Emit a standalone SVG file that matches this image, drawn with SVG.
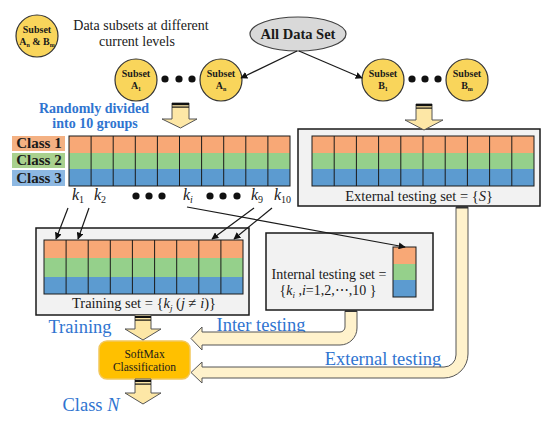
<svg xmlns="http://www.w3.org/2000/svg" width="550" height="423" viewBox="0 0 550 423">
<style>
.serif{font-family:"Liberation Serif","Times New Roman",serif;fill:#1a1a1a}
.bold{font-weight:bold}
.blue{fill:#2F74D0}
.sub{fill:#F9D55B;stroke:#333;stroke-width:1.2}
.box{fill:#F2F2F2;stroke:#1a1a1a;stroke-width:1.5}
.or{fill:#F8A876}
.gr{fill:#95D08B}
.bl{fill:#5C9BD0}
.gl{stroke:#1a1a1a;stroke-width:1;fill:none}
.barrow{fill:#FDE7A6;stroke:#555;stroke-width:1}
.carrow{fill:#FFF2CC;stroke:#555;stroke-width:1}
.con{stroke:#1a1a1a;stroke-width:1.2;fill:none;marker-end:url(#ah)}
.dot{fill:#111}
.k{font-size:16px;font-style:italic}
</style>
<defs>
<marker id="ah" viewBox="0 0 10 10" refX="9" refY="5" markerWidth="7" markerHeight="7" orient="auto" markerUnits="userSpaceOnUse">
<path d="M0,0 L10,5 L0,10 z" fill="#111"/>
</marker>
</defs>
<rect width="550" height="423" fill="#fff"/>

<g id="legend">
<circle class="sub" cx="37" cy="36" r="21"/>
<text class="serif bold" x="37" y="33" font-size="10" text-anchor="middle">Subset</text>
<text class="serif bold" x="37" y="45" font-size="10" text-anchor="middle">A<tspan font-size="6" dy="2">n</tspan><tspan dy="-2"> &amp; B</tspan><tspan font-size="6" dy="2">m</tspan></text>
<text class="serif" x="141" y="30" font-size="14" text-anchor="middle">Data subsets at different</text>
<text class="serif" x="137" y="46" font-size="14" text-anchor="middle">current levels</text>
</g>

<g id="all-data">
<ellipse cx="298" cy="34" rx="48" ry="17" fill="#D9D9D9" stroke="#404040" stroke-width="1.2"/>
<text class="serif bold" x="298" y="39" font-size="14.5" text-anchor="middle">All Data Set</text>
</g>

<g id="subset-a1">
<circle class="sub" cx="136" cy="80" r="21"/>
<text class="serif bold" x="136" y="77" font-size="10" text-anchor="middle">Subset</text>
<text class="serif bold" x="136" y="89" font-size="10" text-anchor="middle">A<tspan font-size="6" dy="2">1</tspan></text>
</g>
<g id="subset-an">
<circle class="sub" cx="221" cy="80" r="21"/>
<text class="serif bold" x="221" y="77" font-size="10" text-anchor="middle">Subset</text>
<text class="serif bold" x="221" y="89" font-size="10" text-anchor="middle">A<tspan font-size="6" dy="2">n</tspan></text>
</g>
<g id="dots-a">
<circle class="dot" cx="165" cy="79" r="3.6"/>
<circle class="dot" cx="179" cy="79" r="3.6"/>
<circle class="dot" cx="192" cy="79" r="3.6"/>
</g>
<g id="subset-b1">
<circle class="sub" cx="383" cy="80" r="21"/>
<text class="serif bold" x="383" y="77" font-size="10" text-anchor="middle">Subset</text>
<text class="serif bold" x="383" y="89" font-size="10" text-anchor="middle">B<tspan font-size="6" dy="2">1</tspan></text>
</g>
<g id="subset-bm">
<circle class="sub" cx="467" cy="80" r="21"/>
<text class="serif bold" x="467" y="77" font-size="10" text-anchor="middle">Subset</text>
<text class="serif bold" x="467" y="89" font-size="10" text-anchor="middle">B<tspan font-size="6" dy="2">m</tspan></text>
</g>
<g id="dots-b">
<circle class="dot" cx="412" cy="79" r="3.6"/>
<circle class="dot" cx="425" cy="79" r="3.6"/>
<circle class="dot" cx="438" cy="79" r="3.6"/>
</g>

<g id="random-label">
<text class="serif bold blue" x="94" y="113" font-size="14" text-anchor="middle">Randomly divided</text>
<text class="serif bold blue" x="95" y="128" font-size="14" text-anchor="middle">into 10 groups</text>
</g>

<g id="class-labels">
<rect x="12" y="136" width="53" height="15" fill="#F4B183"/>
<text class="serif bold" x="39" y="148" font-size="15" text-anchor="middle">Class 1</text>
<rect x="12" y="153" width="53" height="15" fill="#A9D18E"/>
<text class="serif bold" x="39" y="165" font-size="15" text-anchor="middle">Class 2</text>
<rect x="12" y="170" width="53" height="16" fill="#8DB8E2"/>
<text class="serif bold" x="39" y="183" font-size="15" text-anchor="middle">Class 3</text>
</g>

<g id="main-grid">
<rect class="or" x="69" y="136" width="221" height="17"/>
<rect class="gr" x="69" y="153" width="221" height="16"/>
<rect class="bl" x="69" y="169" width="221" height="17"/>
<path class="gl" d="M91.1,136V186M113.2,136V186M135.3,136V186M157.4,136V186M179.5,136V186M201.6,136V186M223.7,136V186M245.8,136V186M267.9,136V186"/>
<rect class="gl" x="69" y="136" width="221" height="50" stroke-width="1.3"/>
</g>

<g id="k-labels">
<text class="serif k" x="72" y="200">k<tspan font-size="10" dy="3" font-style="normal">1</tspan></text>
<text class="serif k" x="94" y="200">k<tspan font-size="10" dy="3" font-style="normal">2</tspan></text>
<circle class="dot" cx="136" cy="196" r="3.6"/>
<circle class="dot" cx="149" cy="196" r="3.6"/>
<circle class="dot" cx="162" cy="196" r="3.6"/>
<text class="serif k" x="183" y="200">k<tspan font-size="10" dy="3">i</tspan></text>
<circle class="dot" cx="210" cy="196" r="3.6"/>
<circle class="dot" cx="223" cy="196" r="3.6"/>
<circle class="dot" cx="237" cy="196" r="3.6"/>
<text class="serif k" x="251" y="200">k<tspan font-size="10" dy="3" font-style="normal">9</tspan></text>
<text class="serif k" x="274" y="200">k<tspan font-size="10" dy="3" font-style="normal">10</tspan></text>
</g>

<g id="external-set">
<rect class="box" x="298" y="129" width="242" height="77"/>
<rect class="or" x="312" y="136" width="222" height="17"/>
<rect class="gr" x="312" y="153" width="222" height="16"/>
<rect class="bl" x="312" y="169" width="222" height="17"/>
<path class="gl" d="M334.2,136V186M356.4,136V186M378.6,136V186M400.8,136V186M423,136V186M445.2,136V186M467.4,136V186M489.6,136V186M511.8,136V186"/>
<rect class="gl" x="312" y="136" width="222" height="50" stroke-width="1.3"/>
<text class="serif" x="419" y="201" font-size="14.5" text-anchor="middle">External testing set = {<tspan font-style="italic">S</tspan>}</text>
</g>

<g id="training-set">
<rect class="box" x="36" y="228" width="213" height="87"/>
<rect class="or" x="44" y="240" width="199" height="18"/>
<rect class="gr" x="44" y="258" width="199" height="19"/>
<rect class="bl" x="44" y="277" width="199" height="17"/>
<path class="gl" d="M66.1,240V294M88.2,240V294M110.3,240V294M132.4,240V294M154.6,240V294M176.7,240V294M198.8,240V294M220.9,240V294"/>
<rect class="gl" x="44" y="240" width="199" height="54" stroke-width="1.3"/>
<text class="serif" x="144" y="308" font-size="14.5" text-anchor="middle">Training set = {<tspan font-style="italic">k</tspan><tspan font-size="9" dy="3" font-style="italic">j</tspan><tspan dy="-3"> (</tspan><tspan font-style="italic">j</tspan> ≠ <tspan font-style="italic">i</tspan>)}</text>
</g>

<g id="internal-set">
<rect class="box" x="266" y="233" width="167" height="77"/>
<rect class="or" x="393" y="247" width="23" height="17"/>
<rect class="gr" x="393" y="264" width="23" height="16"/>
<rect class="bl" x="393" y="280" width="23" height="17"/>
<rect class="gl" x="393" y="247" width="23" height="50" stroke-width="1.3"/>
<text class="serif" x="329" y="279" font-size="14" text-anchor="middle">Internal testing set =</text>
<text class="serif" x="328" y="295" font-size="14" text-anchor="middle">{<tspan font-style="italic">k</tspan><tspan font-size="9" dy="3" font-style="italic">i</tspan><tspan dy="-3"> ,</tspan><tspan font-style="italic">i</tspan>=1,2,⋯,10 }</text>
</g>

<g id="softmax">
<rect x="99" y="341" width="91" height="38" rx="8" fill="#FFC000" stroke="#F2C75C" stroke-width="1.5"/>
<text class="serif" x="144.5" y="358" font-size="11.5" text-anchor="middle">SoftMax</text>
<text class="serif" x="144.5" y="371" font-size="11.5" text-anchor="middle">Classification</text>
</g>

<g id="labels">
<text class="serif blue" x="80" y="333" font-size="18.5" text-anchor="middle">Training</text>
<text class="serif blue" x="261" y="331" font-size="18.5" text-anchor="middle">Inter testing</text>
<text class="serif blue" x="383" y="365" font-size="18.5" text-anchor="middle">External testing</text>
<text class="serif blue" x="91" y="411" font-size="18.5" text-anchor="middle">Class <tspan font-style="italic">N</tspan></text>
</g>

<g id="connectors">
<line class="con" x1="297" y1="51" x2="241" y2="78"/>
<line class="con" x1="299" y1="51" x2="362" y2="78"/>
<line class="con" x1="68" y1="208" x2="56" y2="239"/>
<line class="con" x1="89" y1="208" x2="78" y2="239"/>
<line class="con" x1="254" y1="208" x2="212" y2="239"/>
<line class="con" x1="272" y1="208" x2="234" y2="239"/>
<line class="con" x1="187" y1="207" x2="405" y2="247"/>

<path class="barrow" d="M172,103 H189 V119 H197 L180.5,128 L162,119 H172 Z"/>
<rect x="172" y="103" width="17" height="2.2" fill="#111"/>
<rect x="172" y="106.5" width="17" height="1.2" fill="#111"/>
<path class="barrow" d="M416,104 H432 V120 H443 L424,130 L405,120 H416 Z"/>
<rect x="416" y="104" width="16" height="2.2" fill="#111"/>
<rect x="416" y="107.5" width="16" height="1.2" fill="#111"/>
<path class="barrow" d="M135,315 H151 V329 H161 L143,340 L125,329 H135 Z"/>
<rect x="135" y="316" width="16" height="2" fill="#111"/>
<rect x="135" y="319.5" width="16" height="1.2" fill="#111"/>
<path class="barrow" d="M135,379 H151 V393 H161 L143,404 L125,393 H135 Z"/>
<rect x="135" y="380" width="16" height="2" fill="#111"/>
<rect x="135" y="383.5" width="16" height="1.2" fill="#111"/>

<path class="carrow" d="M345,310 L345,327 A5,5 0 0 1 340,332 L202,332 L202,327 L191,338.5 L202,350 L202,345 L340,345 A17,17 0 0 0 357,328 L357,310 Z"/>
<rect x="345" y="310" width="12" height="2" fill="#333"/>
<path class="carrow" d="M456,206 L456,355 A12,12 0 0 1 444,367 L202,367 L202,362 L191,372.5 L202,383 L202,378 L444,378 A24,24 0 0 0 468,354 L468,206 Z"/>
<rect x="456" y="206" width="12" height="2.5" fill="#333"/>
</g>
</svg>
